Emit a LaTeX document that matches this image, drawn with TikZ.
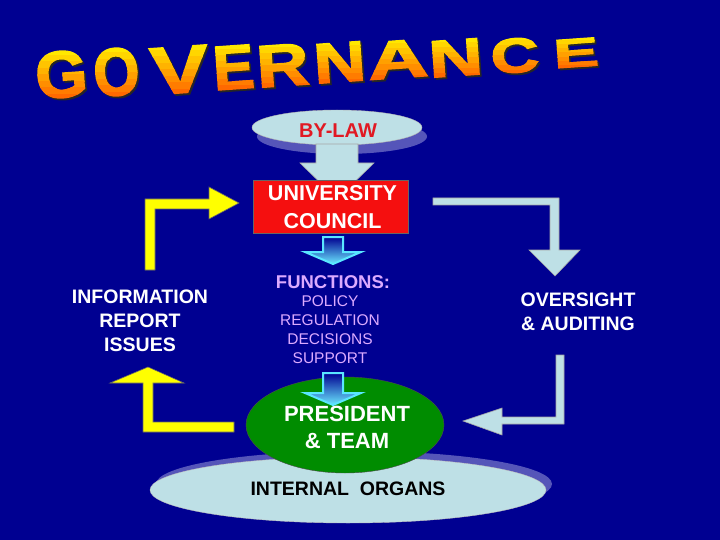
\documentclass[tikz,border=0pt]{standalone}
\usepackage{graphicx}
\usepackage{fontspec}
\setmainfont{Liberation Sans}
\newfontfamily\heavyfont[FakeBold=2.5]{Liberation Sans}
\usetikzlibrary{shapes.geometric}
\definecolor{bgblue}{RGB}{0,0,145}
\definecolor{lblue}{RGB}{190,224,230}
\definecolor{shadowblue}{RGB}{85,85,185}
\definecolor{cred}{RGB}{245,15,15}
\definecolor{bylred}{RGB}{225,25,35}
\definecolor{pgreen}{RGB}{0,140,0}
\definecolor{lav}{RGB}{220,170,255}
\definecolor{cyanl}{RGB}{90,230,255}
\definecolor{ylw}{RGB}{255,255,0}
\definecolor{tyellow}{RGB}{255,232,0}
\definecolor{torange}{RGB}{255,105,0}
\newcommand\govletter[6]{% name, cx, top, bottom, width, letter
  \pgfmathsetmacro\gh{#4-#3}%
  \node[inner sep=0,anchor=south,rotate=4,text=black!85] (#1s) at (#2+1.8,#4+1.8)
    {\resizebox{#5pt}{\gh pt}{\heavyfont\bfseries #6}};
  \foreach \k in {0,...,7}{%
    \pgfmathtruncatemacro\c{\k*100/7}%
    \begin{scope}
      \clip (#2-#5,#3-3+\k*\gh/8+\k*0.75) rectangle (#2+#5,#3-3+\k*\gh/8+\k*0.75+\gh/8+1.1);
      \node[inner sep=0,anchor=south,rotate=4,text=torange!\c!tyellow] (#1\k) at (#2,#4)
        {\resizebox{#5pt}{\gh pt}{\heavyfont\bfseries #6}};
    \end{scope}}%
}
\tikzset{
  whitetxt/.style={text=white,align=center,inner sep=0},
  ybox/.style={fill=ylw,draw=black!60,line width=0.6pt},
  lbox/.style={fill=lblue,draw=gray!70,line width=0.6pt},
  cyarrow/.style={draw=cyanl,line width=2pt,top color=bgblue,middle color=bgblue,bottom color=cyanl!90},
}
\begin{document}
\begin{tikzpicture}[x=1pt,y=-1pt]
\useasboundingbox (0,0) rectangle (720,540);
\fill[bgblue] (0,0) rectangle (720,540);

% title
\govletter{g1}{63}{52}{98}{52}{G}
\govletter{g2}{118}{49}{96}{46}{O}
\govletter{g3}{181}{47}{93}{58}{V}
\govletter{g4}{235}{46}{89}{41}{E}
\govletter{g5}{284}{45}{86}{52}{R}
\govletter{g6}{341}{43}{82}{52}{N}
\govletter{g7}{399}{41}{78}{60}{A}
\govletter{g8}{457}{40}{76}{54}{N}
\govletter{g9}{516}{39}{73}{48}{C}
\govletter{g10}{577}{39}{67}{45}{E}

% by-law
\fill[shadowblue] (342,136.5) ellipse [x radius=85, y radius=17.5];
\node[ellipse,fill=lblue,draw=gray!60,minimum width=170pt,minimum height=35pt,inner sep=0] (byl) at (337,127.5) {};
\node[text=bylred,inner sep=0,font=\fontsize{20}{24}\selectfont\bfseries] (bylt) at (338,131) {BY-LAW};
\filldraw[lbox] (316,144) -- (358,144) -- (358,163) -- (374,163) -- (337,199) -- (300,163) -- (316,163) -- cycle;

% council
\node[draw=black!60,fill=cred,minimum width=155pt,minimum height=53pt,inner sep=0] (council) at (330.5,206.5) {};
\node[whitetxt,font=\fontsize{21.5}{28}\selectfont\bfseries] (councilt) at (332.5,207) {UNIVERSITY\\COUNCIL};

% cyan arrow 1
\shadedraw[cyarrow] (323,237) -- (343,237) -- (343,252) -- (361,252) -- (333,264) -- (305,252) -- (323,252) -- cycle;

% functions
\node[text=lav,inner sep=0,font=\fontsize{18.5}{22}\selectfont\bfseries] (func) at (333,282) {FUNCTIONS:};
\node[text=lav,align=center,inner sep=0,font=\fontsize{15.5}{19}\selectfont] (funclist) at (330,330) {POLICY\\REGULATION\\DECISIONS\\SUPPORT};

% internal organs
\fill[shadowblue] (354,484) ellipse [x radius=198, y radius=33];
\node[ellipse,fill=lblue,draw=gray!50,minimum width=396pt,minimum height=66pt,inner sep=0] (organs) at (348,490) {};
\node[inner sep=0,font=\fontsize{19.5}{22}\selectfont\bfseries] (organst) at (348,489) {INTERNAL\ \ ORGANS};

% president
\node[ellipse,fill=pgreen,draw=black!70,minimum width=198pt,minimum height=96pt,inner sep=0] (pres) at (345,425) {};
\node[whitetxt,font=\fontsize{22}{27}\selectfont\bfseries] (prest) at (347,427) {PRESIDENT\\\&\ TEAM};

% cyan arrow 2
\shadedraw[cyarrow] (323,373) -- (343,373) -- (343,393) -- (361,393) -- (333,405) -- (305,393) -- (323,393) -- cycle;

% yellow arrows
\filldraw[ybox] (145,270) -- (145,199) -- (209,199) -- (209,187) -- (239,203) -- (209,219) -- (209,209) -- (155,209) -- (155,270) -- cycle;
\filldraw[ybox] (148,367) -- (184,383) -- (153,383) -- (153,422) -- (234,422) -- (234,432) -- (143,432) -- (143,383) -- (110,383) -- cycle;

% light blue arrows
\filldraw[lbox] (433,198) -- (559,198) -- (559,250) -- (580,250) -- (555,276) -- (529,250) -- (550,250) -- (550,205) -- (433,205) -- cycle;
\filldraw[lbox] (556,355) -- (564,355) -- (564,424) -- (502,424) -- (502,435) -- (463,421) -- (502,408) -- (502,417) -- (556,417) -- cycle;

% side texts
\node[whitetxt,font=\fontsize{19.5}{24}\selectfont\bfseries] (info) at (140,321) {INFORMATION\\REPORT\\ISSUES};
\node[whitetxt,font=\fontsize{19.5}{24}\selectfont\bfseries] (over) at (578,312) {OVERSIGHT\\\&\ AUDITING};
\end{tikzpicture}
\end{document}
